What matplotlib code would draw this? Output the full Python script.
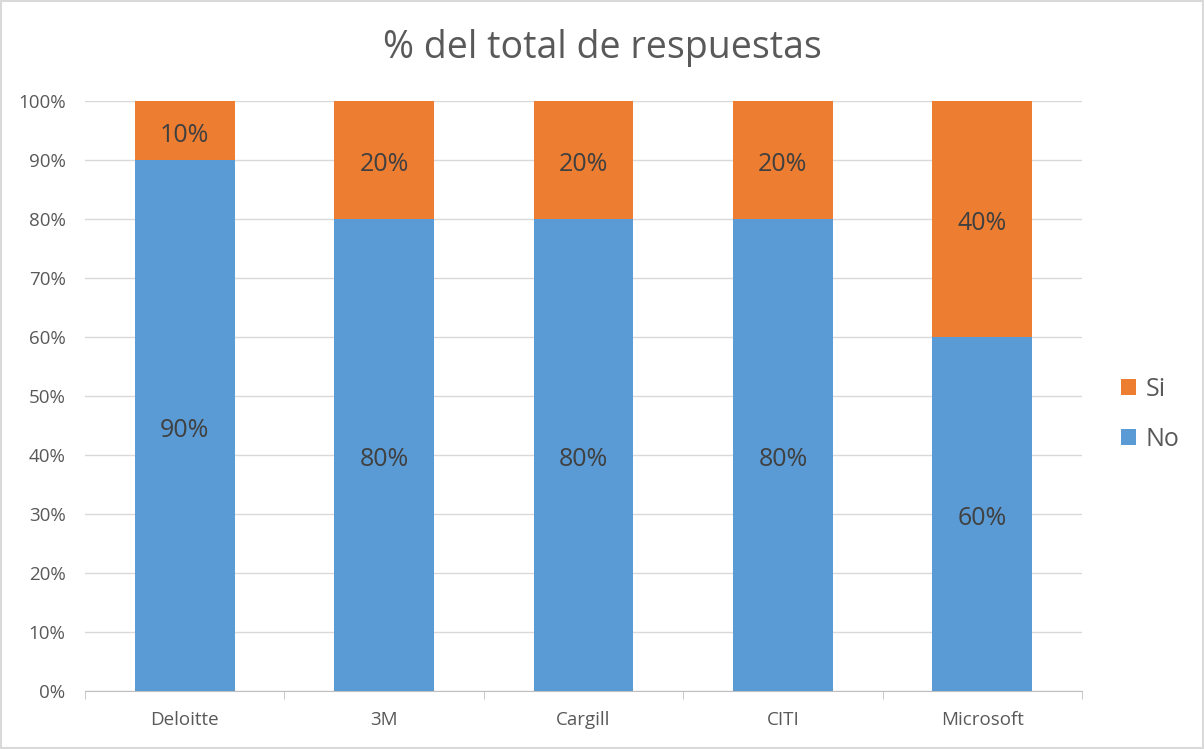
import matplotlib
matplotlib.use("Agg")
import matplotlib.pyplot as plt
from matplotlib.patches import Rectangle
from matplotlib.ticker import PercentFormatter

plt.rcParams['font.family'] = ['Open Sans', 'DejaVu Sans']

empresas = ["Deloitte", "3M", "Cargill", "CITI", "Microsoft"]
no_vals = [90, 80, 80, 80, 60]
si_vals = [10, 20, 20, 20, 40]

AZUL = "#5B9BD5"
NARANJA = "#ED7D31"
GRIS_TXT = "#595959"

fig = plt.figure(figsize=(12.04, 7.49), dpi=100)
fig.patches.append(Rectangle((0.001, 0.001), 0.998, 0.997, transform=fig.transFigure,
                             fill=False, edgecolor="#D9D9D9", linewidth=1.5))
ax = fig.add_axes([85 / 1204, 1 - 691 / 749, (1082 - 85) / 1204, (691 - 101) / 749])

x = range(len(empresas))
b_no = ax.bar(x, no_vals, width=0.5, color=AZUL, label="No", zorder=3)
b_si = ax.bar(x, si_vals, bottom=no_vals, width=0.5, color=NARANJA, label="Si", zorder=3)

# etiquetas de porcentaje dentro de cada tramo
for rect, v in zip(list(b_no) + list(b_si), no_vals + si_vals):
    ax.text(rect.get_x() + rect.get_width() / 2, rect.get_y() + rect.get_height() / 2 - 0.8,
            f"{v}%", ha="center", va="center", fontsize=18, color="#404040", zorder=4)

ax.set_xlim(-0.5, len(empresas) - 0.5)
ax.set_ylim(0, 100)
ax.set_yticks(range(0, 101, 10))
ax.yaxis.set_major_formatter(PercentFormatter(decimals=0))
ax.grid(axis="y", color="#D9D9D9", linewidth=1, zorder=0)

ax.set_xticks(list(x))
ax.set_xticklabels(empresas)
ax.set_xticks([i - 0.5 for i in range(len(empresas) + 1)], minor=True)
ax.tick_params(axis="x", which="major", length=0, pad=14.5, labelsize=13.5, labelcolor=GRIS_TXT)
ax.tick_params(axis="x", which="minor", length=6, color="#BFBFBF", direction="out")
ax.tick_params(axis="y", length=0, pad=14, labelsize=13.5, labelcolor=GRIS_TXT)

for s in ["top", "right", "left"]:
    ax.spines[s].set_visible(False)
ax.spines["bottom"].set_color("#BFBFBF")

fig.text(0.5, 1 - 48 / 749, "% del total de respuestas", ha="center", va="center",
         fontsize=27, color=GRIS_TXT)

handles, labels = ax.get_legend_handles_labels()
leg = fig.legend(handles[::-1], labels[::-1], loc="center left",
                 bbox_to_anchor=(1098 / 1204, 1 - 414 / 749), frameon=False,
                 fontsize=18, handlelength=0.6, handleheight=0.6, labelspacing=1.0,
                 handletextpad=0.4)
for t in leg.get_texts():
    t.set_color(GRIS_TXT)

fig.savefig("out.png", dpi=100)
